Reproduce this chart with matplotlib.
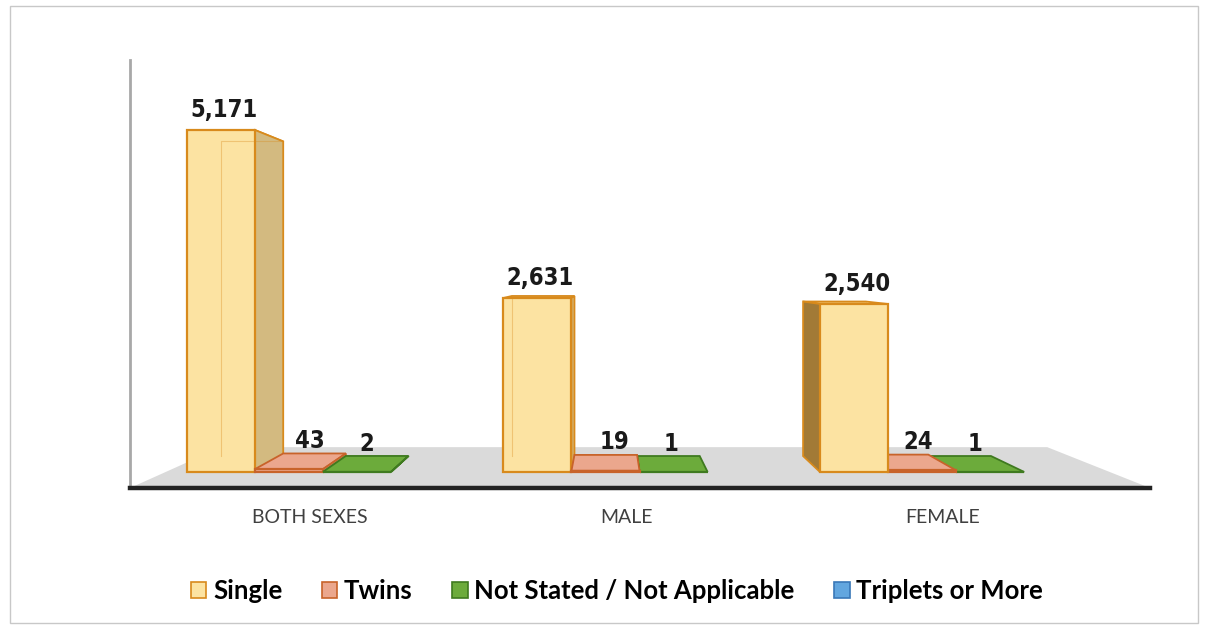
import numpy as np
import matplotlib.pyplot as plt
from matplotlib.patches import Polygon, Patch, Rectangle

# chart data
categories = ['BOTH SEXES', 'MALE', 'FEMALE']
series_names = ['Single', 'Twins', 'Not Stated / Not Applicable', 'Triplets or More']
single = [5171, 2631, 2540]
twins = [43, 19, 24]
not_stated = [2, 1, 1]
triplets = [0, 0, 0]

face = {'Single': '#fce3a2', 'Twins': '#eba78d',
        'Not Stated / Not Applicable': '#6cab3b', 'Triplets or More': '#62a6df'}
edge = {'Single': '#d88a1c', 'Twins': '#c8632a',
        'Not Stated / Not Applicable': '#3f7a1f', 'Triplets or More': '#3a78b8'}
side_left = {'Single': '#d3ba80', 'Twins': '#c98a70', 'Not Stated / Not Applicable': '#4f8a2a'}
side_right = {'Single': '#a27a36', 'Twins': '#b87a60', 'Not Stated / Not Applicable': '#4f8a2a'}

fig = plt.figure(figsize=(12.08, 6.29), dpi=100)
ax = fig.add_axes([130 / 1208, 141 / 629, 1020 / 1208, 428 / 629])
ax.set_xlim(-0.502, 2.72)
ax.set_ylim(-242, 6229)

# fake perspective: vanishing point and depth factors
vp = (1.011, 3009)
k_bar = 0.08
k_floor = 0.19


def back(x, y, k):
    return (x + (vp[0] - x) * k, y + (vp[1] - y) * k)


# floor
x_lo, x_hi = ax.get_xlim()
y_lo = ax.get_ylim()[0]
floor = [(x_lo, y_lo), (x_hi, y_lo), back(x_hi, y_lo, k_floor), back(x_lo, y_lo, k_floor)]
ax.add_patch(Polygon(floor, closed=True, fc='#dadada', ec='none', zorder=1))


def prism(x0, x1, h, name):
    fc, ec = face[name], edge[name]
    bl, br = back(x0, 0, k_bar), back(x1, 0, k_bar)
    tl, tr = back(x0, h, k_bar), back(x1, h, k_bar)
    ax.add_patch(Polygon([(x0, h), (x1, h), tr, tl], closed=True, fc=fc, ec=ec, lw=1.3, zorder=2))
    if x1 < vp[0]:
        ax.add_patch(Polygon([(x1, 0), (x1, h), tr, br], closed=True,
                             fc=side_left[name], ec=ec, lw=1.3, zorder=2))
    elif x0 > vp[0]:
        ax.add_patch(Polygon([(x0, 0), (x0, h), tl, bl], closed=True,
                             fc=side_right[name], ec=ec, lw=1.3, zorder=2))
    ax.add_patch(Rectangle((x0, 0), x1 - x0, h, fc=fc, ec=ec, lw=1.6, zorder=2))
    # faint hidden edges seen through the glassy bar
    if h > 500:
        ax.plot([bl[0], tl[0], tr[0]], [bl[1], tl[1], tr[1]], color=ec, lw=0.8, alpha=0.35, zorder=3)


width = 0.215
drawn = [('Single', single), ('Twins', twins), ('Not Stated / Not Applicable', not_stated)]

for i in range(len(categories)):
    bars = []
    for j, (name, vals) in enumerate(drawn):
        x0 = i + (j - 1.5) * width
        bars.append((x0, x0 + width, vals[i], name))
    # paint from far (away from vanishing point) to near
    bars.sort(key=lambda b: -abs((b[0] + b[1]) / 2 - vp[0]))
    for x0, x1, h, name in bars:
        prism(x0, x1, h, name)

    # value labels
    for j, (name, vals) in enumerate(drawn):
        x0 = i + (j - 1.5) * width
        xc = x0 + width / 2
        v = vals[i]
        if name == 'Single':
            pos, dx = (xc, v), 2
        else:
            pos = back(xc, v, k_bar / 2)
            dx = 6 if name == 'Twins' else 0
        ax.annotate(f'{v:,}', pos, xytext=(dx, 6), textcoords='offset points',
                    ha='center', va='bottom', fontsize=17, fontweight='bold', fontstretch='condensed',
                    family=['Liberation Sans Narrow', 'DejaVu Sans'], color='#1a1a1a', zorder=5)

ax.set_xticks(np.arange(len(categories)) + 0.065)
ax.set_xticklabels(categories, family='Lato', fontsize=14, color='#404040')
ax.tick_params(axis='x', length=0, pad=15)
ax.set_yticks([])

for s in ['top', 'right']:
    ax.spines[s].set_visible(False)
ax.spines['left'].set_color('#a8a8a8')
ax.spines['left'].set_linewidth(2)
ax.spines['bottom'].set_color('#222222')
ax.spines['bottom'].set_linewidth(3.2)
ax.spines['bottom'].set_zorder(4)

# legend
handles = [Patch(fc=face[n], ec=edge[n], lw=1.2) for n in series_names]
fig.legend(handles, series_names, loc='center', bbox_to_anchor=(617 / 1208, 1 - 591 / 629),
           ncol=4, frameon=False, prop={'family': 'Lato', 'weight': 'bold', 'size': 18.5},
           handlelength=0.6, handleheight=0.6, handletextpad=0.25, columnspacing=1.55)

# outer frame
fig.add_artist(Rectangle((10 / 1208, 6 / 629), 1188 / 1208, 617 / 629, transform=fig.transFigure,
                         fill=False, ec='#c8c8c8', lw=1))

fig.savefig('out.png', dpi=100)
